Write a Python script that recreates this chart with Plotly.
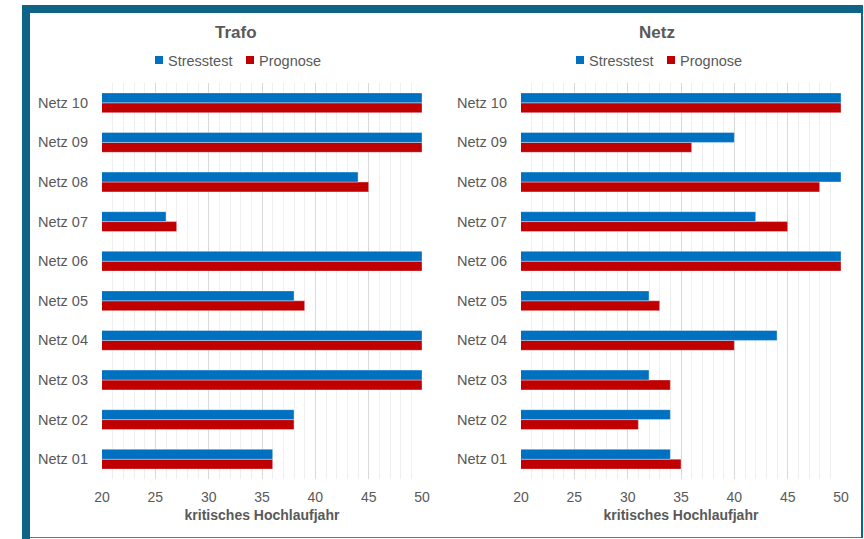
import plotly.graph_objects as go

# Networks (bottom to top)
netze = ["Netz 01", "Netz 02", "Netz 03", "Netz 04", "Netz 05",
         "Netz 06", "Netz 07", "Netz 08", "Netz 09", "Netz 10"]

# Critical ramp-up year per network, transformer view
trafo_stresstest = [36, 38, 50, 50, 38, 50, 26, 44, 50, 50]
trafo_prognose = [36, 38, 50, 50, 39, 50, 27, 45, 50, 50]

# Critical ramp-up year per network, grid view
netz_stresstest = [34, 34, 32, 44, 32, 50, 42, 50, 40, 50]
netz_prognose = [35, 31, 34, 40, 33, 50, 45, 48, 36, 50]

series_names = ["Stresstest", "Prognose"]

BLUE = "#0070C0"
RED = "#C00000"
TEXT = "#595959"
FRAME = "#0E6387"
FONT = "Liberation Sans, Arial, sans-serif"

W, H = 864, 539

fig = go.Figure()

panels = [
    ("x", "y", trafo_stresstest, trafo_prognose),
    ("x2", "y2", netz_stresstest, netz_prognose),
]

for xa, ya, stress, prog in panels:
    # Prognose first so that Stresstest sits above it within each group
    fig.add_trace(go.Bar(
        x=prog, y=netze, orientation="h", name=series_names[1],
        marker=dict(color=RED, line=dict(color="rgba(255,255,255,0.35)", width=1)),
        xaxis=xa, yaxis=ya, showlegend=False,
    ))
    fig.add_trace(go.Bar(
        x=stress, y=netze, orientation="h", name=series_names[0],
        marker=dict(color=BLUE, line=dict(color="rgba(255,255,255,0.35)", width=1)),
        xaxis=xa, yaxis=ya, showlegend=False,
    ))

def xaxis_cfg(domain):
    return dict(
        domain=domain, range=[20, 50], tick0=20, dtick=5,
        showgrid=True, gridcolor="#D9D9D9", gridwidth=1,
        minor=dict(dtick=1, showgrid=True, gridcolor="#EFEFEF", gridwidth=1),
        zeroline=False, showline=False, ticks="",
        tickfont=dict(family=FONT, size=14, color=TEXT),
        ticklabelstandoff=8, automargin=False,
        title=dict(text="<b>kritisches Hochlaufjahr</b>",
                   font=dict(family=FONT, size=14, color=TEXT), standoff=6),
        fixedrange=True,
    )

def yaxis_cfg(anchor):
    return dict(
        domain=[1 - 479 / H, 1 - 83 / H], anchor=anchor,
        type="category", categoryorder="array", categoryarray=netze,
        showgrid=False, zeroline=False, showline=False, ticks="",
        tickfont=dict(family=FONT, size=14.5, color=TEXT),
        ticklabelstandoff=13, automargin=False, fixedrange=True,
    )

annotations = []
shapes = []

def px_x(v):
    return v / W

def px_y(v):
    return 1 - v / H

# Panel titles
for title, cx in (("Trafo", 236), ("Netz", 657)):
    annotations.append(dict(
        text=f"<b>{title}</b>", x=px_x(cx), y=px_y(32), xref="paper", yref="paper",
        showarrow=False, xanchor="center", yanchor="middle",
        font=dict(family=FONT, size=17, color=TEXT)))

# Legend rows: small colour key followed by the series name
for left in (155, 576):
    pos = left
    for name, col, text_w in ((series_names[0], BLUE, 65), (series_names[1], RED, 63)):
        shapes.append(dict(type="rect", xref="paper", yref="paper",
                           x0=px_x(pos), x1=px_x(pos + 8), y0=px_y(64), y1=px_y(56),
                           fillcolor=col, line=dict(width=0)))
        annotations.append(dict(
            text=name, x=px_x(pos + 11), y=px_y(60.5), xref="paper", yref="paper",
            showarrow=False, xanchor="left", yanchor="middle",
            font=dict(family=FONT, size=14.5, color=TEXT)))
        pos += 11 + text_w + 15

# Frame around the chart
def band(x0, y0, x1, y1, color):
    shapes.append(dict(type="rect", xref="paper", yref="paper",
                       x0=px_x(x0), x1=px_x(x1), y0=px_y(y1), y1=px_y(y0),
                       line=dict(width=0), fillcolor=color, layer="above"))

band(22, 5, 863, 13, FRAME)     # top
band(22, 5, 30, 539, FRAME)     # left
band(861, 5, 863, 538, FRAME)   # right
band(30, 537, 861, 538, "#2C86B6")  # bottom

fig.update_layout(
    width=W, height=H, autosize=False,
    margin=dict(l=0, r=0, t=0, b=0, autoexpand=False),
    paper_bgcolor="white", plot_bgcolor="white",
    barmode="group", bargap=0.5, bargroupgap=0,
    showlegend=False,
    xaxis=xaxis_cfg([102 / W, 422 / W]),
    yaxis=yaxis_cfg("x"),
    xaxis2=dict(xaxis_cfg([521 / W, 841 / W]), anchor="y2"),
    yaxis2=yaxis_cfg("x2"),
    annotations=annotations,
    shapes=shapes,
)

fig.write_html("out.html")
